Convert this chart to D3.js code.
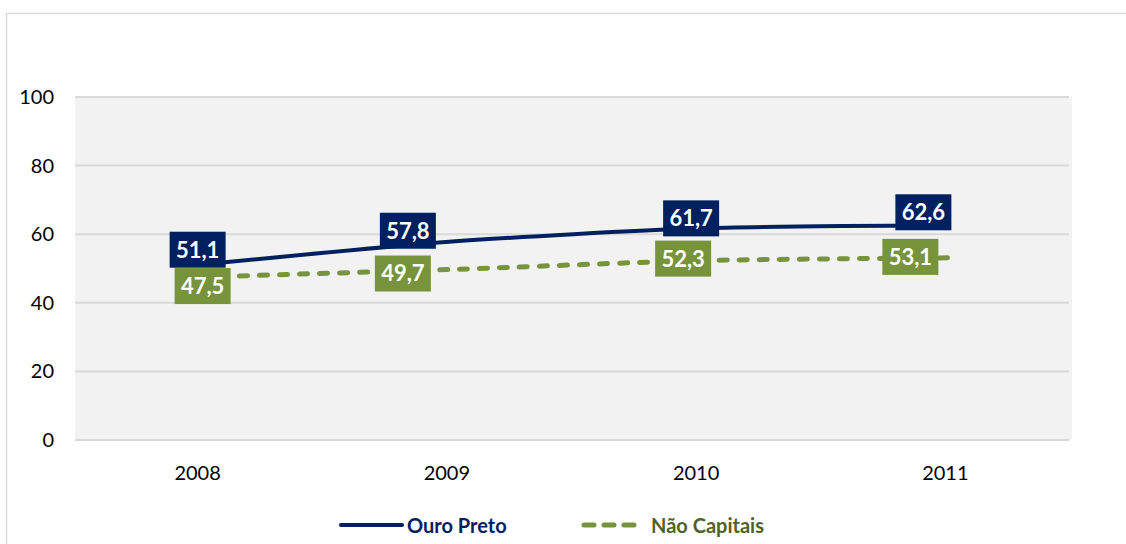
<!DOCTYPE html>
<html>
<head>
<meta charset="utf-8">
<script src="https://cdn.jsdelivr.net/npm/d3@7"></script>
<style>
  body { margin: 0; background: #fff; }
  text { font-family: Lato, "Open Sans", sans-serif; }
</style>
</head>
<body>
<div id="chart"></div>
<script>
const years = ['2008', '2009', '2010', '2011'];
const ouroPreto = [51.1, 57.8, 61.7, 62.6];
const naoCapitais = [47.5, 49.7, 52.3, 53.1];
const yTicks = [0, 20, 40, 60, 80, 100];

const width = 1126;
const height = 544;
const plot = { left: 75, right: 1072, top: 97, bottom: 440 };

// label box nudges (px) relative to each point, as placed in the original
const navyNudge = [[-2, -15], [-41, -11], [-7, -10], [-24, -13]];
const greenNudge = [[3, 9], [-46, 4], [-15, -2], [-37, -1]];

const navy = '#002060';
const green = '#77933c';

const svg = d3.select('#chart')
    .append('svg')
    .attr('width', width)
    .attr('height', height);

// outer chart border
svg.append('rect')
    .attr('x', 6.5)
    .attr('y', 13.5)
    .attr('width', width + 10)
    .attr('height', height + 10)
    .attr('fill', '#fff')
    .attr('stroke', '#d9d9d9')
    .attr('stroke-width', 1.5);

const x = d3.scaleBand()
    .domain(years)
    .range([plot.left, plot.right]);

const y = d3.scaleLinear()
    .domain([0, 100])
    .range([plot.bottom, plot.top]);

const cx = d => x(d) + x.bandwidth() / 2;

svg.append('rect')
    .attr('x', plot.left)
    .attr('y', plot.top)
    .attr('width', plot.right - plot.left)
    .attr('height', plot.bottom - plot.top)
    .attr('fill', '#f2f2f2');

// gridlines
svg.append('g')
    .selectAll('line')
    .data(yTicks)
    .enter()
    .append('line')
    .attr('x1', plot.left)
    .attr('x2', plot.right - 3)
    .attr('y1', d => y(d))
    .attr('y2', d => y(d))
    .attr('stroke', '#d9d9d9')
    .attr('stroke-width', 2);

// y axis labels
svg.append('g')
    .selectAll('text')
    .data(yTicks)
    .enter()
    .append('text')
    .attr('x', 54)
    .attr('y', d => y(d))
    .attr('dy', '0.35em')
    .attr('text-anchor', 'end')
    .style('font-size', '20px')
    .style('fill', '#000')
    .text(d => d);

// x axis labels
svg.append('g')
    .selectAll('text')
    .data(years)
    .enter()
    .append('text')
    .attr('x', d => cx(d) - 2)
    .attr('y', 480)
    .attr('text-anchor', 'middle')
    .style('font-size', '20px')
    .style('fill', '#000')
    .text(d => d);

const line = d3.line()
    .x((d, i) => cx(years[i]))
    .y(d => y(d))
    .curve(d3.curveCardinal.tension(0.3));

svg.append('path')
    .datum(naoCapitais)
    .attr('d', line)
    .attr('fill', 'none')
    .attr('stroke', green)
    .attr('stroke-width', 5)
    .attr('stroke-linecap', 'round')
    .style('stroke-dasharray', '8,12');

svg.append('path')
    .datum(ouroPreto)
    .attr('d', line)
    .attr('fill', 'none')
    .attr('stroke', navy)
    .attr('stroke-width', 4);

const fmt = v => v.toFixed(1).replace('.', ',');

const drawLabels = (values, nudge, fill) => {
    const g = svg.append('g')
        .selectAll('g')
        .data(values)
        .enter()
        .append('g')
        .attr('transform', (d, i) =>
            `translate(${cx(years[i]) + nudge[i][0]},${y(d) + nudge[i][1]})`);

    g.append('rect')
        .attr('x', -28)
        .attr('y', -18)
        .attr('width', 56)
        .attr('height', 36)
        .attr('fill', fill);

    g.append('text')
        .attr('text-anchor', 'middle')
        .attr('dy', '0.36em')
        .style('font-size', '22px')
        .style('font-weight', 'bold')
        .style('fill', '#fff')
        .text(d => fmt(d));
};

drawLabels(naoCapitais, greenNudge, green);
drawLabels(ouroPreto, navyNudge, navy);

// legend
const legend = svg.append('g');
legend.append('line')
    .attr('x1', 341).attr('x2', 402)
    .attr('y1', 525).attr('y2', 525)
    .attr('stroke', navy)
    .attr('stroke-width', 4)
    .attr('stroke-linecap', 'round');
legend.append('text')
    .attr('x', 407).attr('y', 526)
    .attr('dy', '0.35em')
    .style('font-size', '20px')
    .style('font-weight', 'bold')
    .style('fill', navy)
    .text('Ouro Preto');

legend.append('line')
    .attr('x1', 584).attr('x2', 638)
    .attr('y1', 525).attr('y2', 525)
    .attr('stroke', green)
    .attr('stroke-width', 5)
    .attr('stroke-linecap', 'round')
    .style('stroke-dasharray', '10,10');
legend.append('text')
    .attr('x', 651).attr('y', 526)
    .attr('dy', '0.35em')
    .style('font-size', '20px')
    .style('font-weight', 'bold')
    .style('fill', '#4f6228')
    .text('Não Capitais');
</script>
</body>
</html>
